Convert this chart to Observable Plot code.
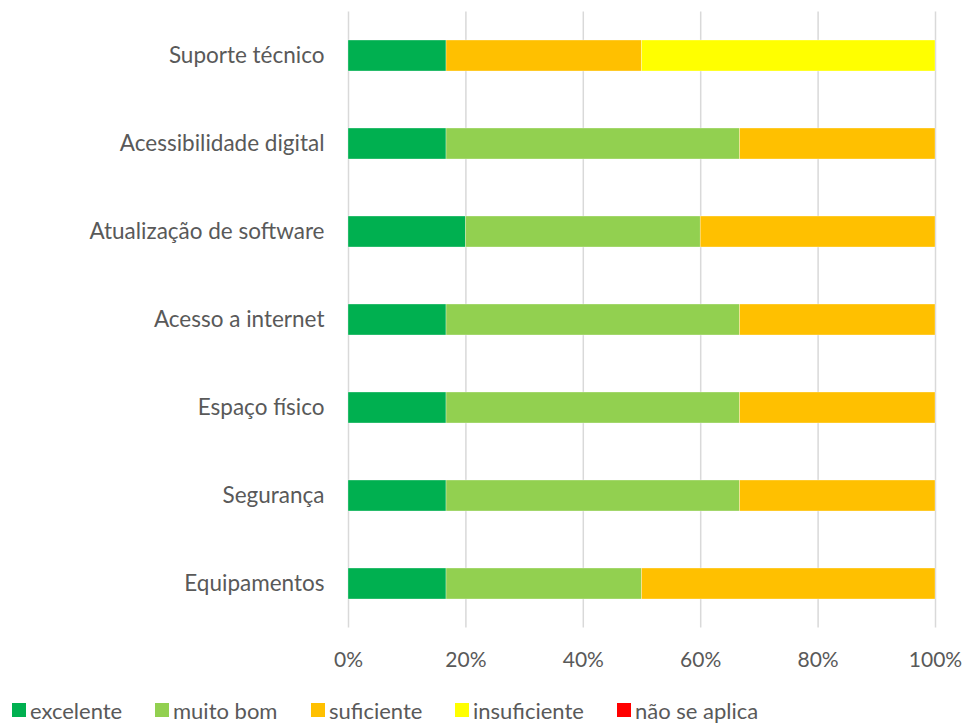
<!DOCTYPE html>
<html>
<head>
<meta charset="utf-8">
<script src="https://cdn.jsdelivr.net/npm/d3@7"></script>
<script src="https://cdn.jsdelivr.net/npm/@observablehq/plot@0.6"></script>
<style>
  body { margin: 0; background: #fff; font-family: Lato, "Open Sans", sans-serif; }
  #chart svg { display: block; }
  #legend { position: relative; height: 34px; font-size: 22px; color: #595959; font-family: Lato, sans-serif; }
  .item { position: absolute; top: 0; display: flex; align-items: center; height: 34px; white-space: nowrap; }
  .sw { width: 14px; height: 14px; margin-right: 4px; }
</style>
</head>
<body>
<div id="chart"></div>
<div id="legend"></div>
<script>
const categories = ["Suporte técnico", "Acessibilidade digital", "Atualização de software", "Acesso a internet", "Espaço físico", "Segurança", "Equipamentos"];
const seriesNames = ["excelente", "muito bom", "suficiente", "insuficiente", "não se aplica"];
const seriesColors = ["#00B050", "#92D050", "#FFC000", "#FFFF00", "#FF0000"];
const excelente    = [16.7, 16.7, 20.0, 16.7, 16.7, 16.7, 16.7];
const muitoBom     = [0.0, 50.0, 40.0, 50.0, 50.0, 50.0, 33.3];
const suficiente   = [33.3, 33.3, 40.0, 33.3, 33.3, 33.3, 50.0];
const insuficiente = [50.0, 0.0, 0.0, 0.0, 0.0, 0.0, 0.0];
const naoSeAplica  = [0.0, 0.0, 0.0, 0.0, 0.0, 0.0, 0.0];
const xTicks = [0, 20, 40, 60, 80, 100];

const seriesValues = [excelente, muitoBom, suficiente, insuficiente, naoSeAplica];
const data = [];
categories.forEach((c, i) => {
  seriesNames.forEach((s, j) => {
    data.push({category: c, series: s, value: seriesValues[j][i]});
  });
});

const chart = Plot.plot({
  width: 968,
  height: 693,
  marginLeft: 348,
  marginRight: 33,
  marginTop: 11.5,
  marginBottom: 65.5,
  style: {fontFamily: "Lato, sans-serif", fontSize: "21px", color: "#595959", background: "#fff"},
  x: {domain: [0, 100], ticks: xTicks, tickFormat: d => d + "%", label: null},
  y: {domain: categories, label: null, paddingInner: 0.648, paddingOuter: 0.324, round: false},
  color: {domain: seriesNames, range: seriesColors},
  marks: [
    Plot.gridX(xTicks, {stroke: "#d9d9d9", strokeOpacity: 1, strokeWidth: 1.5}),
    Plot.barX(data, Plot.stackX({y: "category", x: "value", fill: "series", order: seriesNames, stroke: "#fff", strokeWidth: 0.5, strokeOpacity: 0.6})),
    Plot.axisX(xTicks, {anchor: "bottom", tickSize: 0, tickPadding: 24, tickFormat: d => d + "%", fontSize: 21, fill: "#595959", label: null}),
    Plot.axisY({anchor: "left", tickSize: 0, tickPadding: 24, fontSize: 22.5, fill: "#595959", label: null})
  ]
});
document.getElementById("chart").appendChild(chart);

const legend = document.getElementById("legend");
const legendLeft = [12, 155, 311, 455, 617];
seriesNames.forEach((s, j) => {
  const it = document.createElement("div");
  it.className = "item";
  it.style.left = legendLeft[j] + "px";
  const sw = document.createElement("div");
  sw.className = "sw";
  sw.style.background = seriesColors[j];
  const t = document.createElement("span");
  t.textContent = s;
  it.appendChild(sw);
  it.appendChild(t);
  legend.appendChild(it);
});
</script>
</body>
</html>
